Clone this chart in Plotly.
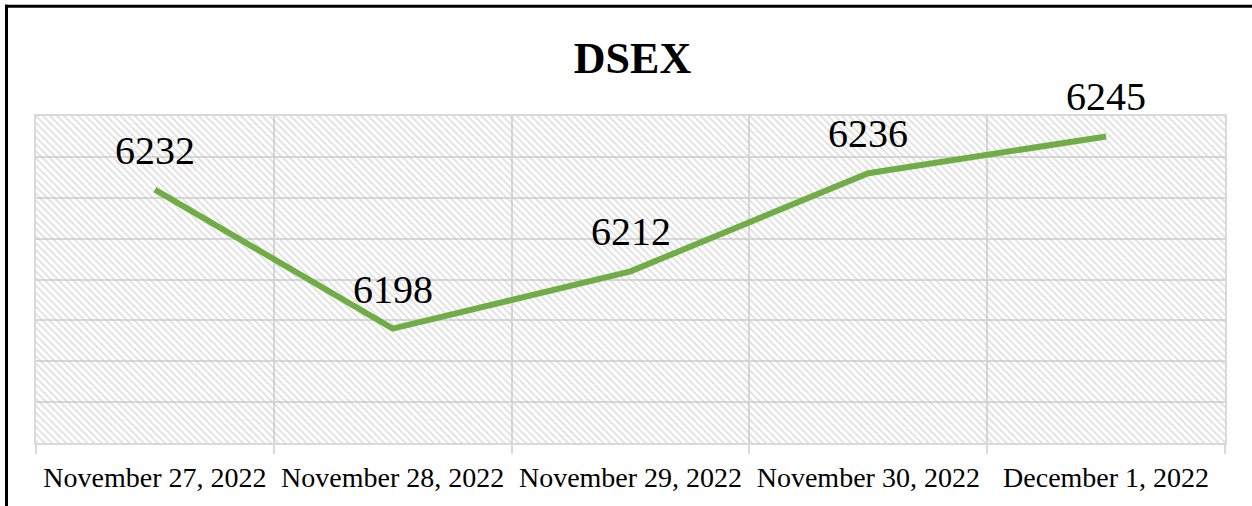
import plotly.graph_objects as go

# ---- data ----
DATES = ["November 27, 2022", "November 28, 2022", "November 29, 2022",
         "November 30, 2022", "December 1, 2022"]
DSEX = [6232, 6198, 6212, 6236, 6245]
Y_MIN, Y_MAX, Y_STEP = 6170, 6250, 10
TITLE = "DSEX"

# ---- layout constants ----
W, H = 1252, 506
ML, MR, MT, MB = 36, 27, 116, 63
PW, PH = W - ML - MR, H - MT - MB
GRID = "#d9d9d9"
GREEN = "#70AD47"
FONT = "Liberation Serif"

X = list(range(len(DATES)))
X_LO, X_HI = -0.5, len(DATES) - 0.5

fig = go.Figure()

# hatched plot-area background
fig.add_trace(go.Scatter(
    x=[X_LO, X_HI, X_HI, X_LO, X_LO],
    y=[Y_MIN, Y_MIN, Y_MAX, Y_MAX, Y_MIN],
    mode="none", fill="toself",
    fillpattern=dict(shape="\\", size=5, solidity=0.4,
                     fgcolor="#c4c4c4", bgcolor="rgba(0,0,0,0)"),
    hoverinfo="skip", showlegend=False,
))

fig.add_trace(go.Scatter(
    x=X, y=DSEX, mode="lines",
    line=dict(color=GREEN, width=6),
    showlegend=False,
))

for xi, v in zip(X, DSEX):
    fig.add_annotation(x=xi, y=v, text=str(v), showarrow=False,
                       yanchor="bottom", xanchor="center", yshift=15,
                       font=dict(family=FONT, size=40, color="black"))

# partial outer border (top and left edges)
def px_to_paper_x(px):
    return (px - ML) / PW

def px_to_paper_y(py):
    return 1 + (MT - py) / PH

bx, by = 6.5, 6.2
fig.add_shape(type="line", xref="paper", yref="paper",
              x0=px_to_paper_x(bx - 1.5), x1=px_to_paper_x(W + 5),
              y0=px_to_paper_y(by), y1=px_to_paper_y(by),
              line=dict(color="black", width=3))
fig.add_shape(type="line", xref="paper", yref="paper",
              x0=px_to_paper_x(bx), x1=px_to_paper_x(bx),
              y0=px_to_paper_y(by - 1.5), y1=px_to_paper_y(H + 5),
              line=dict(color="black", width=3))

fig.update_layout(
    width=W, height=H,
    margin=dict(l=ML, r=MR, t=MT, b=MB),
    paper_bgcolor="white", plot_bgcolor="white",
    title=dict(text="<b>" + TITLE + "</b>", x=(ML + 0.5 * PW + 2) / W,
               xanchor="center", y=1 - 57.5 / H, yanchor="middle",
               yref="container",
               font=dict(family=FONT, size=44, color="black")),
    xaxis=dict(
        type="linear", range=[X_LO, X_HI],
        tickmode="array", tickvals=X, ticktext=DATES,
        ticks="", showgrid=False, zeroline=False,
        ticklabelstandoff=8,
        tickfont=dict(family=FONT, size=28, color="black"),
        showline=True, linecolor=GRID, linewidth=2, mirror=True,
        minor=dict(tickmode="array",
                   tickvals=[i - 0.5 for i in range(len(DATES) + 1)],
                   showgrid=True, gridcolor=GRID, gridwidth=2,
                   ticks="outside", ticklen=9, tickcolor=GRID, tickwidth=2),
        fixedrange=True,
    ),
    yaxis=dict(
        range=[Y_MIN, Y_MAX], dtick=Y_STEP, tick0=Y_MIN,
        showticklabels=False, ticks="",
        showgrid=True, gridcolor=GRID, gridwidth=2, zeroline=False,
        showline=True, linecolor=GRID, linewidth=2, mirror=True,
        fixedrange=True,
    ),
)

fig.write_html("out.html", config={"displayModeBar": False},
               post_script="document.body.style.margin='0';")
